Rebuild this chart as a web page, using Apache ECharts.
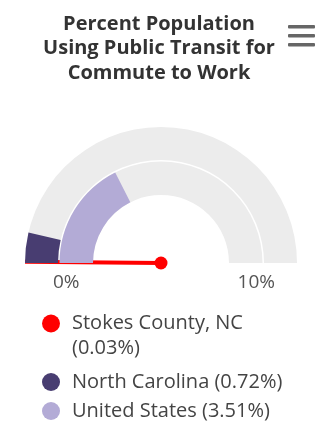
<!DOCTYPE html>
<html>
<head>
<meta charset="utf-8">
<script src="https://cdn.jsdelivr.net/npm/echarts@6/dist/echarts.min.js"></script>
<style>
html,body{margin:0;padding:0;background:#fff;}
#main{width:318px;height:423px;}
</style>
</head>
<body>
<div id="main"></div>
<script>
var titleText = 'Percent Population\nUsing Public Transit for\nCommute to Work';
var seriesNames = ['Stokes County, NC', 'North Carolina', 'United States'];
var seriesValues = [0.03, 0.72, 3.51];
var seriesColors = ['#ff0000', '#483d71', '#b3abd6'];
var gaugeMin = 0;
var gaugeMax = 10;
var tickValues = [0, 10];
var tickLabels = ['0%', '10%'];

var chart = echarts.init(document.getElementById('main'));
var CX = 161, CY = 263;
var FONT = '"Open Sans", sans-serif';

function legendFmt(name) {
  var i = seriesNames.indexOf(name);
  var v = seriesValues[i].toFixed(2) + '%';
  if (i === 0) return '\n' + name + '\n(' + v + ')';
  return name + ' (' + v + ')';
}

function baseGauge() {
  return {
    type: 'gauge',
    center: [CX, CY],
    startAngle: 180,
    endAngle: 0,
    min: gaugeMin,
    max: gaugeMax,
    splitNumber: 1,
    axisTick: {show: false},
    splitLine: {show: false, length: 0, distance: 0},
    axisLabel: {show: false},
    pointer: {show: false},
    anchor: {show: false},
    title: {show: false},
    detail: {show: false},
    animation: false
  };
}

var sNC = baseGauge();
sNC.name = seriesNames[1];
sNC.radius = 136;
sNC.itemStyle = {color: seriesColors[1]};
sNC.axisLine = {lineStyle: {width: 33, color: [[1, '#ececec']]}};
sNC.progress = {show: true, width: 33, itemStyle: {color: seriesColors[1]}};
sNC.data = [{name: seriesNames[1], value: seriesValues[1]}];

var sUS = baseGauge();
sUS.name = seriesNames[2];
sUS.radius = 101.5;
sUS.itemStyle = {color: seriesColors[2]};
sUS.axisLine = {lineStyle: {width: 33.5, color: [[1, '#ececec']]}};
sUS.progress = {show: true, width: 33.5, itemStyle: {color: seriesColors[2]}};
sUS.data = [{name: seriesNames[2], value: seriesValues[2]}];

var sSC = baseGauge();
sSC.name = seriesNames[0];
sSC.radius = 114;
sSC.itemStyle = {color: seriesColors[0]};
sSC.axisLine = {show: false, lineStyle: {width: 0}};
sSC.axisLabel = {
  show: true, distance: 0, color: '#555', fontSize: 19, fontFamily: FONT, lineHeight: 40,
  rich: {
    l: {color: '#555', fontSize: 19, fontFamily: FONT, lineHeight: 40, padding: [0, 0, 0, 6]},
    r: {color: '#555', fontSize: 19, fontFamily: FONT, lineHeight: 40}
  },
  formatter: function (v) {
    var i = tickValues.indexOf(Math.round(v));
    if (i < 0) return '';
    return '\n{' + (i === 0 ? 'l' : 'r') + '|' + tickLabels[i] + '}';
  }
};
sSC.pointer = {show: true, icon: 'rect', length: 136, width: 4, offsetCenter: [0, 0], itemStyle: {color: seriesColors[0]}};
sSC.anchor = {show: true, showAbove: true, icon: 'circle', size: 13, itemStyle: {color: seriesColors[0]}};
sSC.data = [{name: seriesNames[0], value: seriesValues[0]}];

var legendCommon = {
  orient: 'vertical',
  left: 42,
  padding: 0,
  height: 120,
  icon: 'circle',
  itemWidth: 18,
  itemHeight: 18,
  selectedMode: false,
  formatter: legendFmt
};

var option = {
  backgroundColor: '#fff',
  animation: false,
  title: {
    text: titleText,
    left: 159,
    textAlign: 'center',
    top: 12,
    padding: 0,
    textStyle: {fontFamily: FONT, fontSize: 20, fontWeight: 'bold', color: '#333', lineHeight: 24.5}
  },
  legend: [
    Object.assign({}, legendCommon, {
      top: 286,
      data: [{name: seriesNames[0], itemStyle: {color: seriesColors[0]}}],
      textStyle: {fontFamily: FONT, fontSize: 20, color: '#444', lineHeight: 25, padding: [0, 0, 0, 7]}
    }),
    Object.assign({}, legendCommon, {
      top: 370,
      itemGap: 5,
      data: [
        {name: seriesNames[1], itemStyle: {color: seriesColors[1]}},
        {name: seriesNames[2], itemStyle: {color: seriesColors[2]}}
      ],
      textStyle: {fontFamily: FONT, fontSize: 20, color: '#444', lineHeight: 24, padding: [0, 0, 0, 7]}
    })
  ],
  graphic: [
    {type: 'rect', left: 288, top: 25, shape: {width: 27, height: 3.5, r: 1}, style: {fill: '#666'}},
    {type: 'rect', left: 288, top: 34, shape: {width: 27, height: 3.5, r: 1}, style: {fill: '#666'}},
    {type: 'rect', left: 288, top: 43, shape: {width: 27, height: 3.5, r: 1}, style: {fill: '#666'}}
  ],
  series: [sNC, sUS, sSC]
};
chart.setOption(option);
</script>
</body>
</html>
